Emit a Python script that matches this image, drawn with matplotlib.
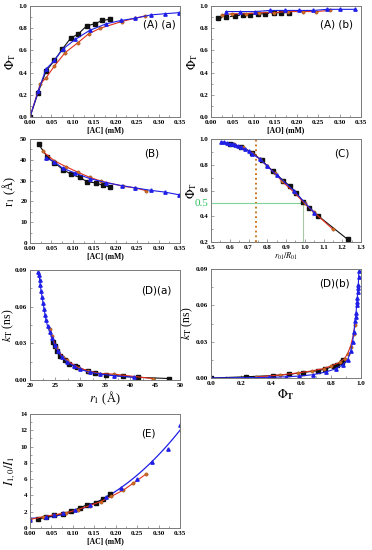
import numpy as np
import matplotlib
matplotlib.use("Agg")
import matplotlib.pyplot as plt
from matplotlib.ticker import AutoMinorLocator

plt.rcParams['font.family'] = ['Liberation Serif', 'DejaVu Serif']
plt.rcParams['mathtext.fontset'] = 'stix'

# ---- data ----
# (A)(a)  Phi_T vs [AC]
aa_blk_x = [0, 0.019, 0.037, 0.057, 0.075, 0.095, 0.113, 0.132, 0.151, 0.169, 0.187]
aa_blk_y = [0, 0.22, 0.41, 0.51, 0.61, 0.71, 0.75, 0.82, 0.84, 0.87, 0.88]
aa_org_x = [0, 0.024, 0.037, 0.057, 0.082, 0.112, 0.137, 0.164, 0.214, 0.245, 0.268]
aa_org_y = [0, 0.30, 0.35, 0.46, 0.58, 0.67, 0.75, 0.80, 0.86, 0.89, 0.91]
aa_blu_x = [0, 0.019, 0.037, 0.057, 0.076, 0.106, 0.139, 0.178, 0.213, 0.246, 0.282, 0.314, 0.347]
aa_blu_y = [0, 0.23, 0.43, 0.51, 0.61, 0.70, 0.78, 0.84, 0.87, 0.89, 0.92, 0.93, 0.94]

# (A)(b)  Phi_T vs [AO]
ab_blk_x = [0.017, 0.035, 0.055, 0.074, 0.092, 0.109, 0.127, 0.146, 0.164, 0.182]
ab_blk_y = [0.89, 0.90, 0.91, 0.92, 0.92, 0.93, 0.93, 0.94, 0.94, 0.94]
ab_org_x = [0.026, 0.050, 0.082, 0.113, 0.146, 0.179, 0.214, 0.245, 0.277]
ab_org_y = [0.92, 0.93, 0.93, 0.94, 0.94, 0.95, 0.95, 0.95, 0.96]
ab_blu_x = [0.035, 0.068, 0.103, 0.137, 0.172, 0.206, 0.239, 0.271, 0.302, 0.336]
ab_blu_y = [0.95, 0.95, 0.95, 0.96, 0.96, 0.96, 0.96, 0.97, 0.97, 0.97]

# (B)  r1 vs [AC]
b_blk_x = [0.020, 0.040, 0.057, 0.078, 0.096, 0.116, 0.134, 0.153, 0.171, 0.187]
b_blk_y = [47.5, 41.5, 38.5, 35.2, 33.0, 31.5, 29.4, 28.9, 27.7, 26.9]
b_org_x = [0.030, 0.057, 0.085, 0.112, 0.139, 0.165, 0.216, 0.245, 0.270]
b_org_y = [44.0, 39.5, 36.6, 34.0, 31.6, 29.8, 27.3, 26.5, 25.2]
b_blu_x = [0.037, 0.057, 0.076, 0.106, 0.139, 0.178, 0.214, 0.246, 0.282, 0.314, 0.347]
b_blu_y = [41.0, 39.0, 36.0, 33.5, 31.0, 29.0, 27.6, 26.5, 25.3, 24.5, 23.2]

# (C)  Phi_T vs r0/R0
c_blk_x = [0.60, 0.66, 0.72, 0.77, 0.83, 0.886, 0.923, 0.953, 0.992, 1.024, 1.07, 1.229]
c_blk_y = [0.965, 0.94, 0.895, 0.835, 0.75, 0.677, 0.632, 0.584, 0.512, 0.467, 0.405, 0.22]
c_org_x = [0.62, 0.67, 0.72, 0.76, 0.80, 0.84, 0.88, 0.94, 1.00, 1.05, 1.149]
c_org_y = [0.96, 0.935, 0.89, 0.845, 0.79, 0.735, 0.67, 0.59, 0.50, 0.43, 0.30]
c_blu_x = [0.555, 0.57, 0.585, 0.60, 0.615, 0.63, 0.645, 0.66, 0.68, 0.70, 0.72, 0.76, 0.80, 0.85, 0.941, 1.051]
c_blu_y = [0.98, 0.975, 0.97, 0.965, 0.96, 0.955, 0.945, 0.935, 0.92, 0.905, 0.885, 0.845, 0.79, 0.72, 0.60, 0.427]

# (D)(a)  kT vs r1
da_blu_x = [21.6, 21.8, 21.93, 22.06, 22.2, 22.4, 22.6, 22.8, 23.0, 23.2, 23.5, 23.9, 24.4, 24.9,
            25.5, 26.3, 27.4, 28.7, 30.0, 32.0, 34.0, 36.7, 40.7]
da_blu_y = [0.088, 0.0859, 0.0818, 0.0777, 0.0731, 0.0682, 0.0633, 0.0584, 0.0534, 0.0491, 0.0442,
            0.0395, 0.0341, 0.0286, 0.024, 0.0191, 0.015, 0.0115, 0.0087, 0.0063, 0.0049, 0.0035, 0.0022]
da_blk_x = [24.5, 24.9, 25.4, 26.0, 26.9, 27.7, 28.9, 29.4, 31.5, 33.0, 35.2, 38.5, 41.5, 47.8]
da_blk_y = [0.031, 0.028, 0.024, 0.020, 0.0165, 0.0135, 0.0115, 0.0105, 0.0075, 0.006, 0.0045, 0.003, 0.0022, 0.0012]
da_org_x = [24.0, 24.4, 25.2, 26.5, 27.3, 29.8, 31.6, 34.0, 36.8, 44.5]
da_org_y = [0.042, 0.036, 0.027, 0.019, 0.016, 0.010, 0.0075, 0.0052, 0.0048, 0.0012]

# (D)(b)  kT vs Phi_T
db_blk_x = [0, 0.23, 0.41, 0.52, 0.61, 0.71, 0.76, 0.82, 0.84, 0.87, 0.88]
db_blk_y = [0, 0.001, 0.002, 0.003, 0.0045, 0.006, 0.0075, 0.0095, 0.011, 0.013, 0.015]
db_org_x = [0.30, 0.46, 0.58, 0.67, 0.75, 0.80, 0.86, 0.89, 0.91, 0.93, 0.95, 0.96]
db_org_y = [0.0008, 0.0025, 0.0042, 0.0058, 0.0078, 0.010, 0.013, 0.016, 0.020, 0.026, 0.036, 0.044]
db_blu_x = [0, 0.389, 0.5, 0.589, 0.678, 0.767, 0.833, 0.878, 0.911, 0.931, 0.944, 0.953, 0.96,
            0.964, 0.967, 0.971, 0.974, 0.976, 0.978, 0.98, 0.982, 0.984, 0.986]
db_blu_y = [0, 0.0005, 0.001, 0.0016, 0.0027, 0.005, 0.0077, 0.011, 0.015, 0.022, 0.030, 0.038, 0.0467,
            0.0505, 0.0535, 0.060, 0.063, 0.066, 0.071, 0.074, 0.077, 0.083, 0.088]

# (E)  I1,0/I1 vs [AC]
e_blk_x = [0.019, 0.037, 0.057, 0.078, 0.096, 0.116, 0.134, 0.153, 0.171, 0.187]
e_blk_y = [1.05, 1.34, 1.54, 1.78, 2.06, 2.47, 2.87, 3.08, 3.56, 4.13]
e_org_x = [0.0, 0.030, 0.057, 0.085, 0.112, 0.139, 0.165, 0.190, 0.218, 0.241, 0.270]
e_org_y = [1.05, 1.38, 1.62, 1.86, 2.27, 2.75, 3.24, 3.89, 4.66, 5.5, 6.6]
e_blu_x = [0.0, 0.037, 0.057, 0.076, 0.106, 0.139, 0.178, 0.213, 0.250, 0.284, 0.321, 0.350]
e_blu_y = [0.93, 1.3, 1.54, 1.82, 2.27, 2.83, 3.77, 4.86, 5.99, 8.1, 9.7, 12.7]
e_fit_x = [0.0, 0.05, 0.10, 0.15, 0.20, 0.25, 0.30, 0.35]
e_fit_y = [1.2, 1.4, 2.0, 3.0, 4.5, 6.5, 9.0, 12.0]

BLK = '#111111'
ORG = '#d2691e'
RED = '#e0301e'
BLU = '#1f1fe6'
FR = '#7a7a7a'
TK = dict(fontsize=5, fontweight='bold')
MS = 2.4


def three(ax, bx, by, ox, oy, ux, uy, ms=MS, blk_ls='-'):
    ax.plot(bx, by, color=BLK, lw=0.8, ls=blk_ls, marker='s', ms=ms, mfc=BLK, mec=BLK)
    ax.plot(ox, oy, color=RED, lw=0.8, marker='o', ms=ms, mfc=ORG, mec='#8b4513', mew=0.3)
    ax.plot(ux, uy, color=BLU, lw=0.8, marker='^', ms=ms, mfc=BLU, mec=BLU)


def style(ax, xt, yt, xfmt, yfmt, ylx=-0.12):
    ax.set_xticks(xt)
    ax.set_yticks(yt)
    ax.set_xticklabels([xfmt.format(v) for v in xt], **TK)
    ax.set_yticklabels([yfmt.format(v) for v in yt], **TK)
    ax.xaxis.set_minor_locator(AutoMinorLocator(2))
    ax.yaxis.set_minor_locator(AutoMinorLocator(2))
    ax.tick_params(which='both', direction='in', color=FR, width=0.5, pad=2)
    ax.tick_params(which='major', length=2.5)
    ax.tick_params(which='minor', length=1.5)
    for s in ax.spines.values():
        s.set_color(FR)
        s.set_linewidth(0.7)
    ax.yaxis.label.set_va('center')
    ax.yaxis.set_label_coords(ylx, 0.5)


def panel(ax, text, x, y):
    ax.text(x, y, text, transform=ax.transAxes, ha='center', va='center',
            fontsize=7.5, family='DejaVu Sans')


fig = plt.figure(figsize=(3.72, 5.5), dpi=100)
W = 150 / 372


def add(left_px, top_px, bot_px):
    return fig.add_axes([left_px / 372, 1 - bot_px / 550, W, (bot_px - top_px) / 550])


axAa = add(30, 6, 117)
axAb = add(211, 6, 117)
axB = add(30, 139, 243)
axC = add(211, 139, 242)
axDa = add(30, 270, 380)
axDb = add(211, 269, 378)
axE = add(30, 414, 528)

phi = r'$\mathit{\Phi}_{\mathrm{T}}$'
xt35 = [0, 0.05, 0.10, 0.15, 0.20, 0.25, 0.30, 0.35]

# (A)(a)
three(axAa, aa_blk_x, aa_blk_y, aa_org_x, aa_org_y, aa_blu_x, aa_blu_y)
axAa.set_xlim(0, 0.35)
axAa.set_ylim(0, 1.0)
axAa.set_xlabel('[AC] (mM)', fontsize=5.5, fontweight='bold', labelpad=1)
axAa.set_ylabel(phi, fontsize=9)
style(axAa, xt35, [0, 0.2, 0.4, 0.6, 0.8, 1.0], '{:.2f}', '{:.1f}', -0.13)
panel(axAa, '(A) (a)', 0.86, 0.83)

# (A)(b)
three(axAb, ab_blk_x, ab_blk_y, ab_org_x, ab_org_y, ab_blu_x, ab_blu_y, blk_ls='--')
axAb.set_xlim(0, 0.35)
axAb.set_ylim(0, 1.0)
axAb.set_xlabel('[AO] (mM)', fontsize=5.5, fontweight='bold', labelpad=1)
axAb.set_ylabel(phi, fontsize=9)
style(axAb, xt35, [0, 0.2, 0.4, 0.6, 0.8, 1.0], '{:.2f}', '{:.1f}', -0.12)
panel(axAb, '(A) (b)', 0.84, 0.83)

# (B)
three(axB, b_blk_x, b_blk_y, b_org_x, b_org_y, b_blu_x, b_blu_y)
axB.set_xlim(0, 0.35)
axB.set_ylim(0, 50)
axB.set_xlabel('[AC] (mM)', fontsize=5.5, fontweight='bold', labelpad=1)
axB.set_ylabel('r$_1$ (Å)', fontsize=9)
style(axB, xt35, [0, 10, 20, 30, 40, 50], '{:.2f}', '{:d}', -0.14)
panel(axB, '(B)', 0.81, 0.86)

# (C)
axC.axvline(0.74, color='#cc6a10', ls=':', lw=1.3)
axC.plot([0.5, 0.99], [0.5, 0.5], color='#7fd39a', lw=0.8)
axC.plot([0.99, 0.99], [0.2, 0.5], color='#a8c8a8', lw=0.8)
three(axC, c_blk_x, c_blk_y, c_org_x, c_org_y, c_blu_x, c_blu_y)
axC.set_xlim(0.5, 1.3)
axC.set_ylim(0.2, 1.0)
axC.text(-0.02, 0.5, '0.5', color='#2fbf5f', fontsize=8, ha='right', va='center',
         transform=axC.get_yaxis_transform())
axC.set_xlabel(r'$r_{01}/R_{01}$', fontsize=6, labelpad=1)
axC.set_ylabel(phi, fontsize=9)
style(axC, [0.5, 0.6, 0.7, 0.8, 0.9, 1.0, 1.1, 1.2, 1.3], [0.2, 0.4, 0.6, 0.8, 1.0], '{:.1f}', '{:.1f}', -0.13)
panel(axC, '(C)', 0.87, 0.86)

# (D)(a)
three(axDa, da_blk_x, da_blk_y, da_org_x, da_org_y, da_blu_x, da_blu_y)
axDa.set_xlim(20, 50)
axDa.set_ylim(0, 0.09)
axDa.set_xlabel('$r_1$ (Å)', fontsize=9, labelpad=1)
axDa.set_ylabel('$k_{\\mathrm{T}}$ (ns)', fontsize=8.5)
style(axDa, [20, 25, 30, 35, 40, 45, 50], [0, 0.03, 0.06, 0.09], '{:d}', '{:.2f}', -0.145)
panel(axDa, '(D)(a)', 0.84, 0.81)

# (D)(b)
three(axDb, db_blk_x, db_blk_y, db_org_x, db_org_y, db_blu_x, db_blu_y)
axDb.set_xlim(0, 1.0)
axDb.set_ylim(0, 0.09)
axDb.set_xlabel(r'$\boldsymbol{\mathit{\Phi}}_{\mathbf{T}}$', fontsize=9, labelpad=1)
axDb.set_ylabel('$k_{\\mathrm{T}}$ (ns)', fontsize=8.5)
style(axDb, [0, 0.2, 0.4, 0.6, 0.8, 1.0], [0, 0.03, 0.06, 0.09], '{:.1f}', '{:.2f}', -0.155)
panel(axDb, '(D)(b)', 0.82, 0.87)

# (E)
fit = np.polyfit(e_fit_x, e_fit_y, 3)
xx = np.linspace(0, 0.35, 100)
axE.plot(xx, np.polyval(fit, xx), color=BLU, lw=0.9)
axE.plot(e_blk_x, e_blk_y, color=BLK, lw=0.8, marker='s', ms=MS, mfc=BLK, mec=BLK)
axE.plot(e_org_x, e_org_y, color=RED, lw=0.8, marker='o', ms=MS, mfc=ORG, mec='#8b4513', mew=0.3)
axE.plot(e_blu_x, e_blu_y, ls='none', marker='^', ms=MS, mfc=BLU, mec=BLU)
axE.set_xlim(0, 0.35)
axE.set_ylim(0, 14)
axE.set_xlabel('[AC] (mM)', fontsize=5.5, fontweight='bold', labelpad=1)
axE.set_ylabel('$I_{1,0}/I_1$', fontsize=9)
style(axE, xt35, [0, 2, 4, 6, 8, 10, 12, 14], '{:.2f}', '{:d}', -0.13)
panel(axE, '(E)', 0.79, 0.83)

fig.savefig('out.png', dpi=100)
